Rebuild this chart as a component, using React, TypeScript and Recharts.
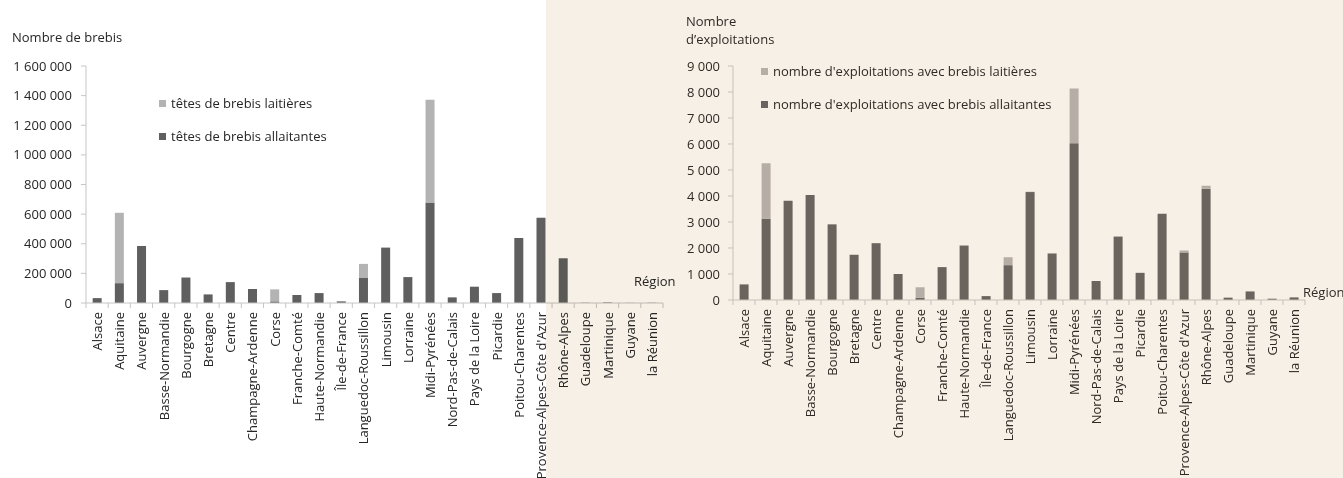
import { BarChart, Bar, XAxis, YAxis, Legend } from "recharts";

const regions = [
  "Alsace", "Aquitaine", "Auvergne", "Basse-Normandie", "Bourgogne", "Bretagne", "Centre",
  "Champagne-Ardenne", "Corse", "Franche-Comté", "Haute-Normandie", "Île-de-France",
  "Languedoc-Roussillon", "Limousin", "Lorraine", "Midi-Pyrénées", "Nord-Pas-de-Calais",
  "Pays de la Loire", "Picardie", "Poitou-Charentes", "Provence-Alpes-Côte d'Azur",
  "Rhône-Alpes", "Guadeloupe", "Martinique", "Guyane", "la Réunion",
];

// têtes de brebis
const brebisAllaitantes = [
  33000, 134000, 385000, 87000, 172000, 58000, 141000, 94000, 11000, 54000, 67000, 11000,
  172000, 374000, 175000, 678000, 38000, 110000, 67000, 439000, 575000, 302000, 2000, 4000, 1000, 1500,
];
const brebisLaitieres = [
  0, 475000, 0, 0, 0, 0, 0, 0, 81000, 0, 0, 0, 92000, 0, 0, 694000, 0, 0, 0, 0, 0, 0, 0, 0, 0, 0,
];
const brebisTicks = [0, 200000, 400000, 600000, 800000, 1000000, 1200000, 1400000, 1600000];

// nombre d'exploitations
const exploitAllaitantes = [
  600, 3130, 3820, 4035, 2910, 1740, 2185, 1000, 90, 1265, 2095, 150, 1340, 4150, 1790, 6030,
  730, 2440, 1045, 3320, 1830, 4280, 90, 330, 50, 100,
];
const exploitLaitieres = [
  0, 2130, 0, 0, 0, 0, 0, 0, 400, 0, 0, 0, 305, 15, 0, 2105, 0, 0, 0, 0, 75, 115, 0, 0, 0, 0,
];
const exploitTicks = [0, 1000, 2000, 3000, 4000, 5000, 6000, 7000, 8000, 9000];

const brebisData = regions.map((region, i) => ({
  region,
  allaitantes: brebisAllaitantes[i],
  laitieres: brebisLaitieres[i],
}));
const exploitData = regions.map((region, i) => ({
  region,
  allaitantes: exploitAllaitantes[i],
  laitieres: exploitLaitieres[i],
}));

const FONT = "'Open Sans', 'Noto Sans', sans-serif";
const BEIGE = "#f7f0e7";

const fmt = (v: number) => String(v).replace(/\B(?=(\d{3})+(?!\d))/g, "\u00a0");

const RegionTick = (props: any) => {
  const { x, y, payload, index, half, color, axisColor } = props;
  return (
    <g>
      <line x1={x - half} x2={x - half} y1={y} y2={y + 5} stroke={axisColor} />
      {index === regions.length - 1 && (
        <line x1={x + half} x2={x + half} y1={y} y2={y + 5} stroke={axisColor} />
      )}
      <text
        x={x}
        y={y + 9}
        transform={`rotate(-90 ${x} ${y + 9})`}
        textAnchor="end"
        dominantBaseline="central"
        fontSize={13}
        fill={color}
        fontFamily={FONT}
      >
        {payload.value}
      </text>
    </g>
  );
};

const makeLegend = (items: { label: string; color: string }[], textColor: string) => () => (
  <div style={{ fontFamily: FONT, fontSize: 13, color: textColor }}>
    {items.map((it) => (
      <div key={it.label} style={{ display: "flex", alignItems: "center", height: 20, marginBottom: 13 }}>
        <span style={{ width: 7, height: 7, background: it.color, marginRight: 5, display: "inline-block" }} />
        <span style={{ whiteSpace: "nowrap" }}>{it.label}</span>
      </div>
    ))}
  </div>
);

const BrebisChart = () => {
  const text = "#262626";
  const axis = "#c6c6c6";
  return (
    <div style={{ position: "absolute", left: 0, top: 0, width: 700, height: 478 }}>
      <div style={{ position: "absolute", left: 12, top: 28, fontFamily: FONT, fontSize: 13, color: text }}>
        Nombre de brebis
      </div>
      <div style={{ position: "absolute", left: 634, top: 272, fontFamily: FONT, fontSize: 13, color: text }}>
        Région
      </div>
      <BarChart
        width={700}
        height={478}
        data={brebisData}
        margin={{ top: 66, right: 37, bottom: 5, left: 0 }}
        barCategoryGap="30%"
      >
        <XAxis
          dataKey="region"
          interval={0}
          height={170}
          tickSize={0}
          tickMargin={0}
          tickLine={false}
          axisLine={{ stroke: axis }}
          tick={(p: any) => <RegionTick {...p} half={577 / 26 / 2} color={text} axisColor={axis} />}
        />
        <YAxis
          width={86}
          domain={[0, 1600000]}
          ticks={brebisTicks}
          interval={0}
          tickFormatter={fmt}
          tickSize={5}
          tickMargin={9}
          axisLine={{ stroke: axis }}
          tickLine={{ stroke: axis }}
          tick={{ fill: text, fontSize: 13, fontFamily: FONT }}
        />
        <Legend
          layout="vertical"
          align="center"
          verticalAlign="middle"
          wrapperStyle={{ left: 159, top: 93, width: 250 }}
          content={makeLegend(
            [
              { label: "têtes de brebis laitières", color: "#b3b3b3" },
              { label: "têtes de brebis allaitantes", color: "#5f5f5f" },
            ],
            text
          )}
        />
        <Bar dataKey="allaitantes" stackId="a" fill="#5f5f5f" isAnimationActive={false} />
        <Bar dataKey="laitieres" stackId="a" fill="#b3b3b3" isAnimationActive={false} />
      </BarChart>
    </div>
  );
};

const ExploitChart = () => {
  const text = "#2f2a26";
  const axis = "#c9c1b8";
  return (
    <div
      style={{
        position: "absolute",
        left: 546,
        top: 0,
        width: 797,
        height: 478,
        background: BEIGE,
        mixBlendMode: "multiply",
      }}
    >
      <div
        style={{ position: "absolute", left: 140, top: 12, fontFamily: FONT, fontSize: 13, lineHeight: "18px", color: text }}
      >
        Nombre
        <br />
        d’exploitations
      </div>
      <div style={{ position: "absolute", left: 757, top: 283, fontFamily: FONT, fontSize: 13, color: text }}>
        Région
      </div>
      <BarChart
        width={797}
        height={478}
        data={exploitData}
        margin={{ top: 66, right: 38, bottom: 0, left: 0 }}
        barCategoryGap="30%"
      >
        <XAxis
          dataKey="region"
          interval={0}
          height={178}
          tickSize={0}
          tickMargin={0}
          tickLine={false}
          axisLine={{ stroke: axis }}
          tick={(p: any) => <RegionTick {...p} half={572 / 26 / 2} color={text} axisColor={axis} />}
        />
        <YAxis
          width={187}
          domain={[0, 9000]}
          ticks={exploitTicks}
          interval={0}
          tickFormatter={fmt}
          tickSize={5}
          tickMargin={8}
          axisLine={{ stroke: axis }}
          tickLine={{ stroke: axis }}
          tick={{ fill: text, fontSize: 13, fontFamily: FONT }}
        />
        <Legend
          layout="vertical"
          align="center"
          verticalAlign="middle"
          wrapperStyle={{ left: 215, top: 61, width: 340 }}
          content={makeLegend(
            [
              { label: "nombre d'exploitations avec brebis laitières", color: "#b6aea6" },
              { label: "nombre d'exploitations avec brebis allaitantes", color: "#6b645e" },
            ],
            text
          )}
        />
        <Bar dataKey="allaitantes" stackId="a" fill="#6b645e" isAnimationActive={false} />
        <Bar dataKey="laitieres" stackId="a" fill="#b6aea6" isAnimationActive={false} />
      </BarChart>
    </div>
  );
};

export default function App() {
  return (
    <div style={{ position: "absolute", left: 0, top: 0, width: 1343, height: 478, background: "#fff", overflow: "hidden" }}>
      <BrebisChart />
      <ExploitChart />
    </div>
  );
}
